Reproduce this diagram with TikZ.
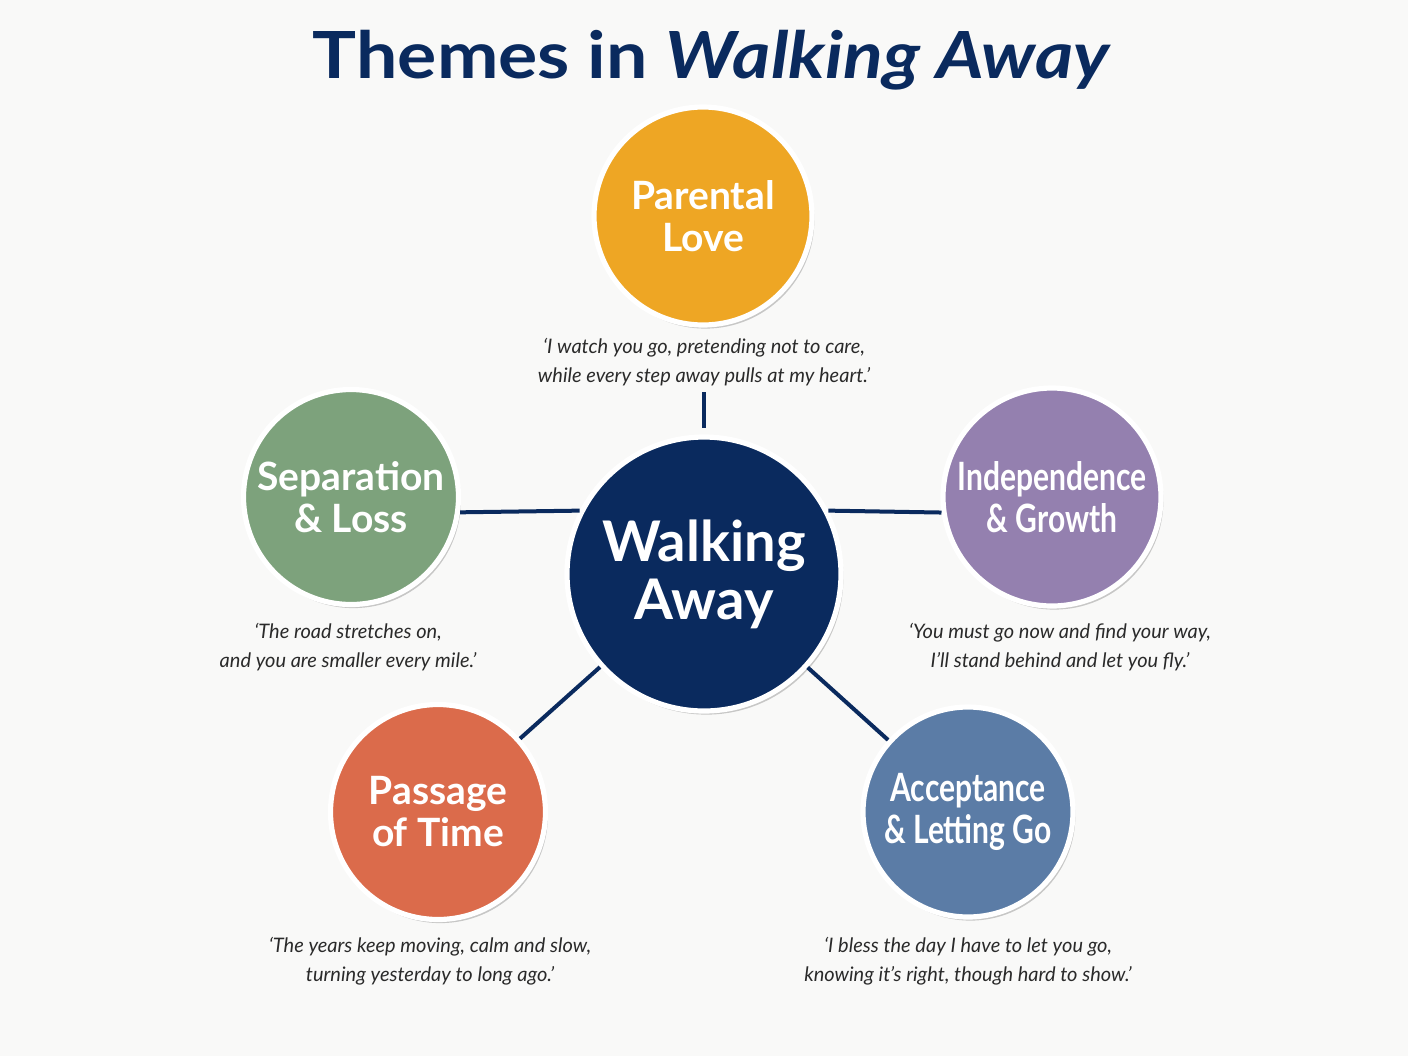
\documentclass[tikz,border=0pt]{standalone}
\usepackage{fontspec}
\setmainfont{Lato}
\newfontfamily\narrowfont[FakeStretch=0.77]{Lato}
\newfontfamily\titlefont[FakeStretch=1.13]{Lato}
\usetikzlibrary{shadows}
\definecolor{navy}{HTML}{0A2A5E}
\definecolor{lovecol}{HTML}{EEA624}
\definecolor{losscol}{HTML}{7DA27C}
\definecolor{growcol}{HTML}{9480AF}
\definecolor{timecol}{HTML}{DB6B4B}
\definecolor{gocol}{HTML}{5B7CA6}
\definecolor{quotecol}{HTML}{2A2A2A}
\definecolor{bgcol}{HTML}{F9F9F8}

\begin{document}
\begin{tikzpicture}[x=0.5pt,y=-0.5pt,
    theme/.style={%
        circle, draw=white, line width=2.6pt, inner sep=0pt,
        text=white, align=center,
        font=\fontsize{19.5}{21}\selectfont\bfseries,
        drop shadow={shadow xshift=1.2pt, shadow yshift=-1.8pt, opacity=0.2, fill=black}},
    hub/.style={%
        theme, fill=navy, minimum size=137pt,
        font=\fontsize{28}{29}\selectfont\bfseries},
    quote/.style={%
        text=quotecol, align=center, inner sep=3pt,
        font=\fontsize{10}{14.5}\selectfont\itshape},
    link/.style={draw=navy, line width=2pt},
]
    % Background and frame
    \fill[bgcol] (0,0) rectangle (1408,1056);
    \useasboundingbox (0,0) rectangle (1408,1056);

    % Title
    \node[text=navy, font=\fontsize{32.5}{36}\selectfont\titlefont\bfseries] (title) at (712,60)
        {Themes in \textit{Walking Away}};

    % Centre
    \node[hub] (hub) at (704,574) {Walking\\Away};

    % Themes
    \node[theme, fill=lovecol, minimum size=109pt] (love) at (703,216) {Parental\\Love};
    \node[theme, fill=losscol, minimum size=107.5pt] (loss) at (351,497) {Separation\\\& Loss};
    \node[theme, fill=growcol, minimum size=109pt, font=\fontsize{19.5}{21}\selectfont\narrowfont\bfseries]
        (grow) at (1052,497) {Independence\\\& Growth};
    \node[theme, fill=timecol, minimum size=107.5pt] (time) at (438,812) {Passage\\of Time};
    \node[theme, fill=gocol, minimum size=105pt, font=\fontsize{19.5}{21}\selectfont\narrowfont\bfseries]
        (go) at (968,812) {Acceptance\\\& Letting Go};

    % Quotes
    \node[quote] (q-love) at (704,362) {‘I watch you go, pretending not to care,\\while every step away pulls at my heart.’};
    \node[quote] (q-loss) at (348,647) {‘The road stretches on,\\and you are smaller every mile.’};
    \node[quote] (q-grow) at (1060,647) {‘You must go now and find your way,\\I’ll stand behind and let you fly.’};
    \node[quote] (q-time) at (430,961) {‘The years keep moving, calm and slow,\\turning yesterday to long ago.’};
    \node[quote] (q-go) at (968,961) {‘I bless the day I have to let you go,\\knowing it’s right, though hard to show.’};

    % Links
    \draw[link, shorten >=3pt] (q-love) -- (hub);
    \draw[link] (loss.-8) -- (hub.153);
    \draw[link] (grow.188) -- (hub.27);
    \draw[link] (hub) -- (time);
    \draw[link] (hub) -- (go);
\end{tikzpicture}
\end{document}
